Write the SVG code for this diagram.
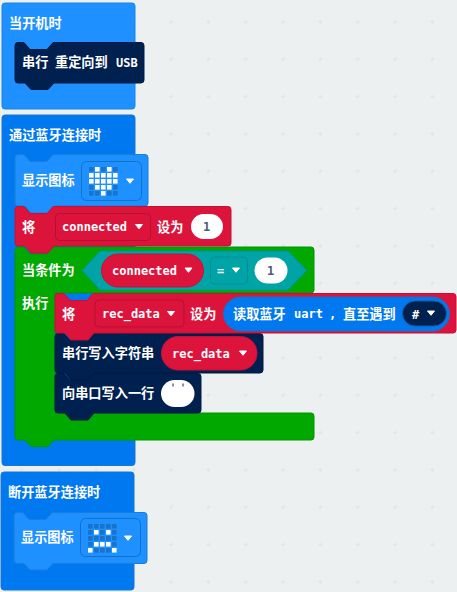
<svg xmlns="http://www.w3.org/2000/svg" width="457" height="592" viewBox="0 0 457 592">
<style>
text{font-family:"Noto Sans CJK SC","Noto Sans",sans-serif;font-size:13.2px;font-weight:700;fill:#fff;dominant-baseline:central;transform:translateY(-0.8px)}
.m{font-family:"DejaVu Sans Mono","Liberation Mono",monospace;font-size:12px;font-weight:700;transform:none}
.v{fill:#4b5a78}
.hat1{fill:#1e90ff;stroke:#1b82e6}
.hat2{fill:#0078f0;stroke:#1b76d2}
.icon{fill:#1e90ff;stroke:#1b7ed6}
.red{fill:#dc143c;stroke:#c4113a}
.dark{fill:#002050;stroke:#001a40}
.green{fill:#00a800;stroke:#009600}
.teal{fill:#00a4a6;stroke:#008f94}
.field{fill:none;stroke:#b5112f}
.tfield{fill:none;stroke:#008f94}
.ifield{fill:none;stroke:#1472c4}
.on{fill:#fff}
.off{fill:#1873cc}
</style>
<defs>
<pattern id="grid" patternUnits="userSpaceOnUse" x="2" y="3.5" width="37.33" height="37.33">
<path d="M17.7 18.5h4M19.7 16.5v4" stroke="#dfe3e6" stroke-width="1" fill="none"/>
</pattern>
<path id="arr" d="M-3.500 -2H3.500L0 2.300Z" fill="#fff" stroke="#fff" stroke-width="1" stroke-linejoin="round"/>
</defs>
<rect width="457" height="592" fill="#ecf0f1"/>
<rect width="457" height="592" fill="url(#grid)"/>

<g id="on-start">
<rect class="hat1" x="2" y="3" width="133" height="106" rx="3"/>
<text x="9" y="23">当开机时</text>
<g id="serial-redirect">
<path class="dark" d="M18 42.500H24l6 7h17l6-7H141q3 0 3 3V80q0 3-3 3H54l-6 6.500H31l-6-6.500H18q-3 0-3-3V45.500q0-3 3-3z"/>
<text x="22" y="62">串行</text>
<text x="55" y="62">重定向到</text>
<text class="m" x="116" y="63">USB</text>
</g>
</g>

<g id="on-connected">
<rect class="hat2" x="2" y="115" width="133" height="350.500" rx="3"/>
<text x="9" y="135">通过蓝牙连接时</text>
<g id="show-heart">
<path class="icon" d="M18 154.500H24l6 7h17l6-7H145q3 0 3 3V203q0 3-3 3H54l-6 7H31l-6-7H18q-3 0-3-3V157.500q0-3 3-3z"/>
<text x="22" y="180">显示图标</text>
<rect class="ifield" x="81.500" y="161.500" width="60" height="39" rx="5"/>
<g class="off">
<rect x="89" y="167" width="4.600" height="4.600"/><rect x="101" y="167" width="4.600" height="4.600"/><rect x="113" y="167" width="4.600" height="4.600"/>
<rect x="89" y="185" width="4.600" height="4.600"/><rect x="113" y="185" width="4.600" height="4.600"/>
<rect x="89" y="191" width="4.600" height="4.600"/><rect x="95" y="191" width="4.600" height="4.600"/><rect x="107" y="191" width="4.600" height="4.600"/><rect x="113" y="191" width="4.600" height="4.600"/>
</g>
<g class="on">
<rect x="95" y="167" width="4.600" height="4.600"/><rect x="107" y="167" width="4.600" height="4.600"/>
<rect x="89" y="173" width="4.600" height="4.600"/><rect x="95" y="173" width="4.600" height="4.600"/><rect x="101" y="173" width="4.600" height="4.600"/><rect x="107" y="173" width="4.600" height="4.600"/><rect x="113" y="173" width="4.600" height="4.600"/>
<rect x="89" y="179" width="4.600" height="4.600"/><rect x="95" y="179" width="4.600" height="4.600"/><rect x="101" y="179" width="4.600" height="4.600"/><rect x="107" y="179" width="4.600" height="4.600"/><rect x="113" y="179" width="4.600" height="4.600"/>
<rect x="95" y="185" width="4.600" height="4.600"/><rect x="101" y="185" width="4.600" height="4.600"/><rect x="107" y="185" width="4.600" height="4.600"/>
<rect x="101" y="191" width="4.600" height="4.600"/>
</g>
<use href="#arr" x="130" y="181"/>
</g>
<g id="if-block">
<path class="green" d="M18 247H24l6 7h17l6-7H311q3 0 3 3V290q0 3-3 3H55V413H311q3 0 3 3V437q0 3-3 3H54l-6 6.500H31l-6-6.500H18q-3 0-3-3V250q0-3 3-3z"/>
<text x="22" y="270">当条件为</text>
<text x="22" y="303">执行</text>
<path class="teal" d="M82 270.500L100 251H288L307 270.500L288 290H100Z"/>
<rect class="red" x="101.500" y="254" width="102" height="33" rx="16.500"/>
<text class="m" x="112" y="271">connected</text>
<use href="#arr" x="188.500" y="270"/>
<rect class="tfield" x="210.500" y="257" width="37" height="27" rx="4"/>
<text class="m" x="217" y="271">=</text>
<use href="#arr" x="236" y="270"/>
<rect x="254.500" y="257.500" width="33" height="26" rx="13" fill="#fff"/>
<text class="m v" x="267" y="271">1</text>
</g>
<g id="set-connected">
<path class="red" d="M18 206.500H24l6 7h17l6-7H228q3 0 3 3V243q0 3-3 3H54l-6 7H31l-6-7H18q-3 0-3-3V209.500q0-3 3-3z"/>
<text x="22" y="227">将</text>
<rect class="field" x="55.500" y="213.500" width="95" height="27" rx="4"/>
<text class="m" x="62" y="227">connected</text>
<use href="#arr" x="139" y="226.500"/>
<text x="157" y="227">设为</text>
<rect x="191" y="214" width="32" height="25" rx="12.500" fill="#fff"/>
<text class="m v" x="203" y="227">1</text>
</g>
<g id="serial-println">
<path class="dark" d="M58 373.500H64l6 7h17l6-7H198q3 0 3 3V410q0 3-3 3H94l-6 7H71l-6-7H58q-3 0-3-3V376.500q0-3 3-3z"/>
<text x="62" y="393">向串口写入一行</text>
<rect x="161" y="380" width="33.500" height="27" rx="13.500" fill="#fff"/>
<rect x="172" y="383.500" width="2" height="3" fill="#8f8fa8"/>
<rect x="182" y="383.500" width="2" height="3" fill="#8f8fa8"/>
</g>
<g id="serial-write">
<path class="dark" d="M58 333.500H64l6 7h17l6-7H260q3 0 3 3V370q0 3-3 3H94l-6 7H71l-6-7H58q-3 0-3-3V336.500q0-3 3-3z"/>
<text x="62" y="353">串行写入字符串</text>
<rect class="red" x="161.500" y="336.500" width="95.500" height="33.500" rx="16.500"/>
<text class="m" x="172" y="354">rec_data</text>
<use href="#arr" x="243" y="353"/>
</g>
<g id="set-rec-data">
<path class="red" d="M58 293.500H64l6 7h17l6-7H453q3 0 3 3V330q0 3-3 3H94l-6 7H71l-6-7H58q-3 0-3-3V296.500q0-3 3-3z"/>
<text x="62" y="314">将</text>
<rect class="field" x="95" y="300" width="89" height="27" rx="4"/>
<text class="m" x="102" y="314">rec_data</text>
<use href="#arr" x="171" y="313.500"/>
<text x="190" y="314">设为</text>
<rect x="223.500" y="297" width="226" height="34" rx="17" fill="#0078f0" stroke="#1b6fc4"/>
<text x="233" y="314">读取蓝牙</text>
<text class="m" x="294" y="314">uart</text>
<text class="m" x="329" y="314">,</text>
<text x="343" y="314">直至遇到</text>
<rect x="402.500" y="301" width="44" height="25" rx="12.500" fill="#002050" stroke="#1b5a9e"/>
<text class="m" x="412" y="314.500">#</text>
<use href="#arr" x="431" y="313"/>
</g>
</g>

<g id="on-disconnected">
<rect class="hat2" x="1" y="472" width="133" height="118" rx="3"/>
<text x="8" y="492">断开蓝牙连接时</text>
<g id="show-sad">
<path class="icon" d="M17 512.500H23l6 7h17l6-7H144q3 0 3 3V560.500q0 3-3 3H53l-6 6.500H30l-6-6.500H17q-3 0-3-3V515.500q0-3 3-3z"/>
<text x="21" y="537">显示图标</text>
<rect class="ifield" x="80.500" y="518.500" width="60" height="38" rx="5"/>
<g class="off">
<rect x="88" y="524" width="4.600" height="4.600"/><rect x="94" y="524" width="4.600" height="4.600"/><rect x="100" y="524" width="4.600" height="4.600"/><rect x="106" y="524" width="4.600" height="4.600"/><rect x="112" y="524" width="4.600" height="4.600"/>
<rect x="88" y="530" width="4.600" height="4.600"/><rect x="100" y="530" width="4.600" height="4.600"/><rect x="112" y="530" width="4.600" height="4.600"/>
<rect x="88" y="536" width="4.600" height="4.600"/><rect x="94" y="536" width="4.600" height="4.600"/><rect x="100" y="536" width="4.600" height="4.600"/><rect x="106" y="536" width="4.600" height="4.600"/><rect x="112" y="536" width="4.600" height="4.600"/>
<rect x="88" y="542" width="4.600" height="4.600"/><rect x="112" y="542" width="4.600" height="4.600"/>
<rect x="94" y="548" width="4.600" height="4.600"/><rect x="100" y="548" width="4.600" height="4.600"/><rect x="106" y="548" width="4.600" height="4.600"/>
</g>
<g class="on">
<rect x="94" y="530" width="4.600" height="4.600"/><rect x="106" y="530" width="4.600" height="4.600"/>
<rect x="94" y="542" width="4.600" height="4.600"/><rect x="100" y="542" width="4.600" height="4.600"/><rect x="106" y="542" width="4.600" height="4.600"/>
<rect x="88" y="548" width="4.600" height="4.600"/><rect x="112" y="548" width="4.600" height="4.600"/>
</g>
<use href="#arr" x="128" y="538"/>
</g>
</g>
</svg>
